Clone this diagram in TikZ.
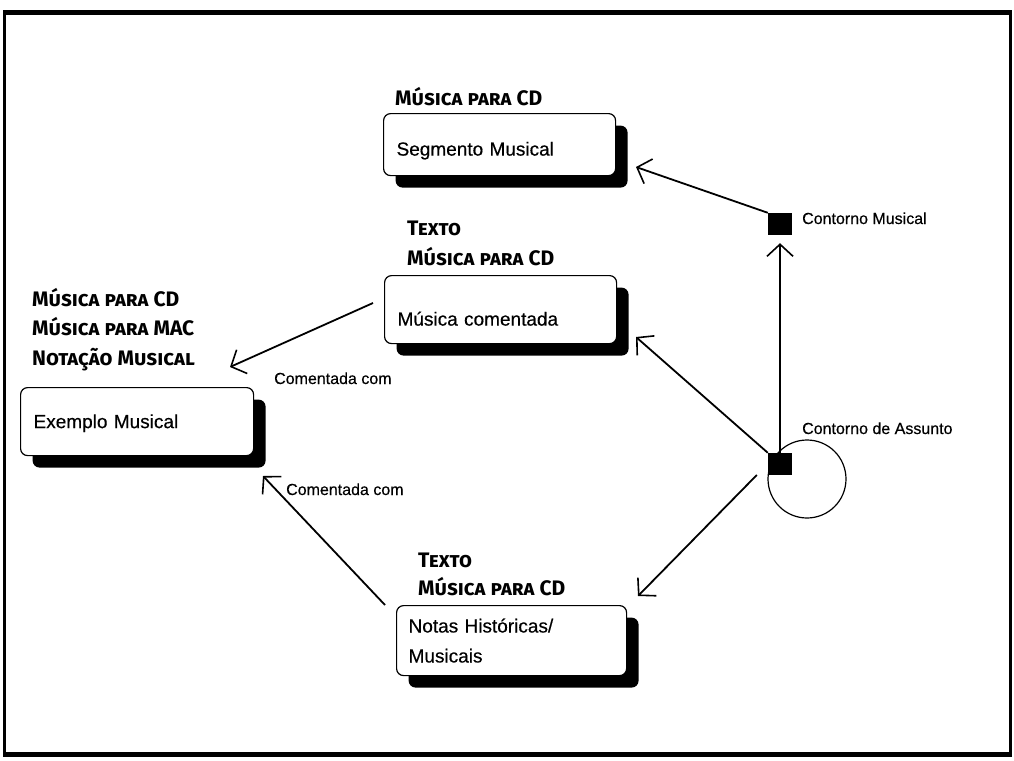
\documentclass[tikz,border=0pt]{standalone}
\usepackage{fontspec}
\setmainfont{Liberation Sans}[FakeBold=0.4]
\newfontfamily\handfont[Letters=SmallCaps]{Fira Sans}
\usetikzlibrary{arrows.meta,shadows}

\tikzset{
  topic/.style={draw=black, line width=1.2pt, rounded corners=7pt, fill=white,
    anchor=north west, inner xsep=13pt, inner ysep=0pt, align=left,
    font=\fontsize{19}{30}\selectfont,
    drop shadow={shadow xshift=12pt, shadow yshift=-12pt, fill=black, opacity=1}},
  lowered/.style={text height=#1, text depth=0pt},
  media/.style={anchor=base west, inner sep=0pt, font=\handfont\bfseries\fontsize{21}{25}\selectfont},
  note/.style={anchor=base west, inner sep=0pt, font=\fontsize{16}{19}\selectfont},
  anchorbox/.style={fill=black, minimum width=24pt, minimum height=22pt, inner sep=0pt},
  link/.style={line width=1.8pt, -{Straight Barb[length=12pt, width=26pt, line width=1.6pt]}}
}

\begin{document}
\begin{tikzpicture}[x=1pt, y=-1pt]
  \useasboundingbox (0,0) rectangle (1014,760);
  \fill[white] (0,0) rectangle (1014,760);

  % outer frame
  \draw[line width=5pt] (3,13) -- (1012,13);
  \draw[line width=5pt] (3,754) -- (1012,754);
  \draw[line width=3pt] (4.5,11) -- (4.5,756);
  \draw[line width=3pt] (1010.5,11) -- (1010.5,756);

  % topic boxes
  \node[topic, lowered=22pt, minimum width=232pt, minimum height=62pt, text width=206pt] (seg) at (383,113) {Segmento Musical};
  \node[topic, lowered=32pt, minimum width=232pt, minimum height=68pt, text width=206pt] (com) at (384,275) {Música comentada};
  \node[topic, lowered=13pt, minimum width=233pt, minimum height=68pt, text width=207pt, inner xsep=12pt] (ex) at (20,387) {Exemplo Musical};
  \node[topic, minimum width=230pt, minimum height=70pt, text width=206pt, inner xsep=12pt] (hist) at (396,605) {Notas Históricas/\\Musicais};

  % media labels
  \node[media] (m1) at (395,105) {Música para CD};
  \node[media] (m2) at (407,235) {Texto};
  \node[media] (m3) at (407,265) {Música para CD};
  \node[media] (m4) at (32,306) {Música para CD};
  \node[media] (m5) at (32,335) {Música para MAC};
  \node[media] (m6) at (32,365) {Notação Musical};
  \node[media] (m7) at (418,567) {Texto};
  \node[media] (m8) at (418,595) {Música para CD};

  % anchors and contours
  \node[anchorbox] (cm) at (780,224) {};
  \node[anchorbox] (ca) at (780,464) {};
  \node[draw, circle, line width=1.2pt, minimum size=78pt, inner sep=0pt] (circ) at (807,479) {};
  \node[note] (lcm) at (802,224) {Contorno Musical};
  \node[note] (lca) at (802,434) {Contorno de Assunto};
  \node[note] (lc1) at (274,384) {Comentada com};
  \node[note] (lc2) at (286,495) {Comentada com};

  % arrow ends
  \coordinate (tipSeg) at (636,167);
  \coordinate (tipCom) at (636,337);
  \coordinate (tipHist) at (638,596);
  \coordinate (tipEx1) at (230,367);
  \coordinate (tipEx2) at (263,476);
  \coordinate (srcCom) at (373,303);
  \coordinate (srcHist) at (385,605);

  % links
  \draw[link, line width=1.3pt] (ca.north) -- ([yshift=-8pt]cm.south);
  \draw[link] (cm.north west) -- (tipSeg);
  \draw[link] (ca.north west) -- (tipCom);
  \draw[link] ([yshift=-11pt]ca.west) ++(-11,0) -- (tipHist);
  \draw[link] (srcCom) -- (tipEx1);
  \draw[link] (srcHist) -- (tipEx2);
\end{tikzpicture}
\end{document}
